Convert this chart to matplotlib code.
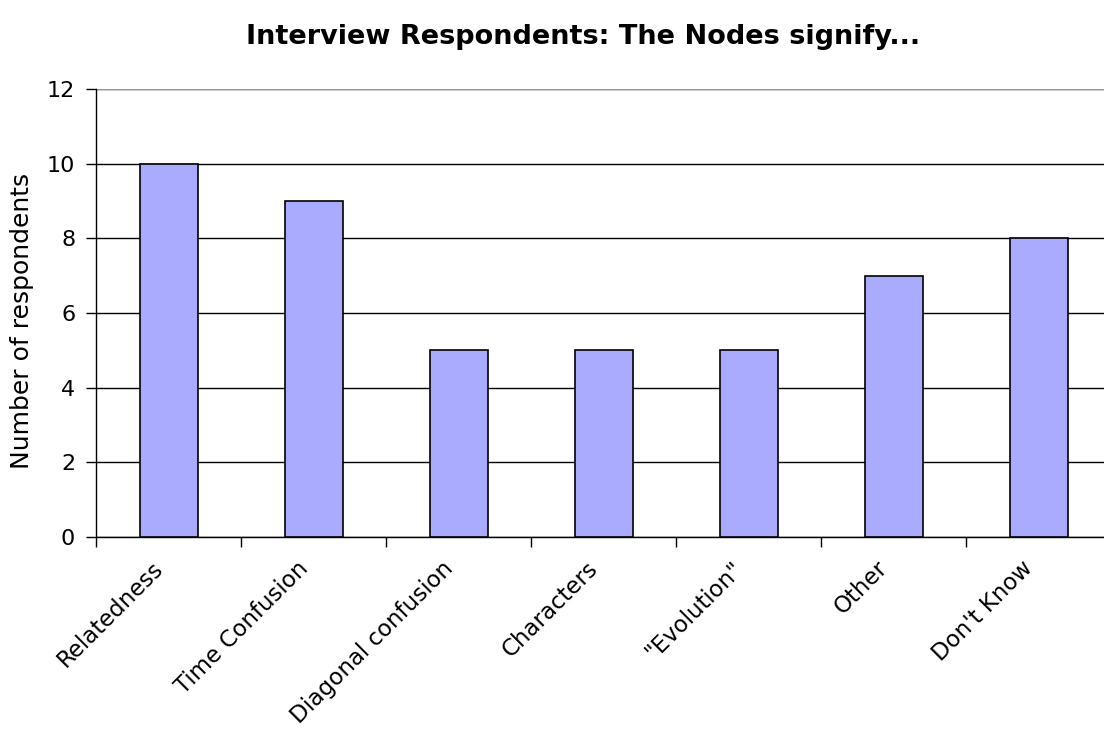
import matplotlib
matplotlib.use("Agg")
import matplotlib.pyplot as plt
import matplotlib.transforms as mtransforms
import numpy as np

categories = ["Relatedness", "Time Confusion", "Diagonal confusion", "Characters",
              "\"Evolution\"", "Other", "Don't Know"]
respondents = [10, 9, 5, 5, 5, 7, 8]
y_ticks = [0, 2, 4, 6, 8, 10, 12]

plt.rcParams["font.family"] = ["DejaVu Sans"]

fig = plt.figure(figsize=(11.04, 7.31), dpi=100)
ax = fig.add_axes([0.087, 0.2654, 0.9194, 0.6129])

x = np.arange(len(categories))
ax.bar(x, respondents, width=0.4, color="#AAAAFF", edgecolor="black",
       linewidth=1.2, zorder=3)

ax.set_xlim(-0.5, len(categories) - 0.5)
ax.set_ylim(0, 12)
ax.set_yticks(y_ticks)
ax.yaxis.grid(True, color="black", linewidth=1.0, zorder=0)
ax.set_axisbelow(True)

ax.set_xticks(x)
ax.set_xticklabels(categories, rotation=45, ha="right", va="center",
                   rotation_mode="anchor", fontsize=16.5)
ax.tick_params(axis="x", which="major", length=0, pad=20)
shift = mtransforms.ScaledTranslation(-9 / 100, 0, fig.dpi_scale_trans)
for lbl in ax.get_xticklabels():
    lbl.set_transform(lbl.get_transform() + shift)
ax.set_xticks(np.arange(-0.5, len(categories) + 0.5, 1.0), minor=True)
ax.tick_params(axis="x", which="minor", length=7, width=1, direction="out")
ax.tick_params(axis="y", length=7, width=1, direction="out", labelsize=16, pad=8)

for side in ("top", "right"):
    ax.spines[side].set_visible(False)
ax.spines["left"].set_linewidth(1.0)
ax.spines["bottom"].set_linewidth(1.0)
ax.axhline(12, color="#999999", linewidth=1.5, zorder=1)

ax.set_ylabel("Number of respondents", fontsize=18)
ax.yaxis.set_label_coords(-0.061, 0.482)

fig.text(0.528, 0.949, "Interview Respondents: The Nodes signify...",
         ha="center", va="center", fontsize=19.5, fontweight="bold")

fig.savefig("out.png", dpi=100)
